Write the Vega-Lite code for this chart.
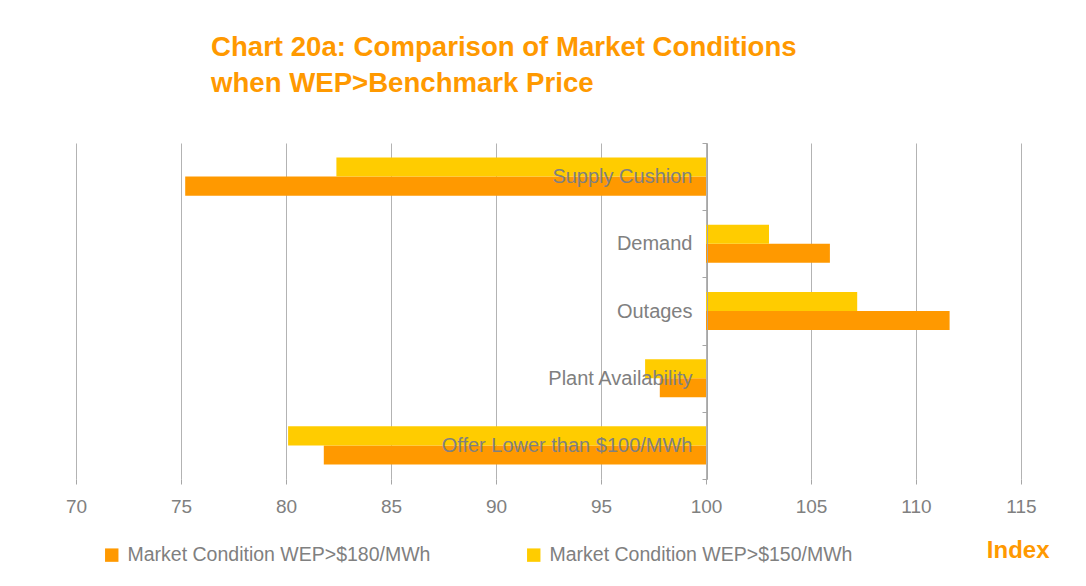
{
  "$schema": "https://vega.github.io/schema/vega-lite/v6.json",
  "width": 945,
  "height": 336,
  "autosize": "none",
  "padding": {"left": 76, "top": 143, "right": 65, "bottom": 107},
  "background": "white",
  "config": {
    "view": {"stroke": null},
    "font": "Liberation Sans"
  },
  "title": {
    "text": ["Chart 20a: Comparison of Market Conditions", "when WEP>Benchmark Price"],
    "anchor": "start",
    "frame": "group",
    "dx": 135,
    "offset": 35,
    "fontSize": 27.6,
    "lineHeight": 36,
    "font": "Liberation Sans",
    "fontWeight": "bold",
    "color": "#FF9900"
  },
  "data": {
    "values": [
      {"category": "Supply Cushion", "series": "Market Condition WEP>$180/MWh", "value": 75.2},
      {"category": "Supply Cushion", "series": "Market Condition WEP>$150/MWh", "value": 82.4},
      {"category": "Demand", "series": "Market Condition WEP>$180/MWh", "value": 105.9},
      {"category": "Demand", "series": "Market Condition WEP>$150/MWh", "value": 103.0},
      {"category": "Outages", "series": "Market Condition WEP>$180/MWh", "value": 111.6},
      {"category": "Outages", "series": "Market Condition WEP>$150/MWh", "value": 107.2},
      {"category": "Plant Availability", "series": "Market Condition WEP>$180/MWh", "value": 97.8},
      {"category": "Plant Availability", "series": "Market Condition WEP>$150/MWh", "value": 97.1},
      {"category": "Offer Lower than $100/MWh", "series": "Market Condition WEP>$180/MWh", "value": 81.8},
      {"category": "Offer Lower than $100/MWh", "series": "Market Condition WEP>$150/MWh", "value": 80.1}
    ]
  },
  "mark": {"type": "bar", "cornerRadius": 0},
  "encoding": {
    "y": {
      "field": "category",
      "type": "nominal",
      "sort": ["Supply Cushion", "Demand", "Outages", "Plant Availability", "Offer Lower than $100/MWh"],
      "scale": {"paddingInner": 0, "paddingOuter": 0},
      "axis": {
        "title": null,
        "orient": "left",
        "offset": -631,
        "zindex": 2,
        "grid": false,
        "domainColor": "#A6A6A6",
        "domainWidth": 1,
        "tickColor": "#A6A6A6",
        "tickSize": 5,
        "tickBand": "extent",
        "labelPadding": 10,
        "labelFontSize": 20,
        "labelColor": "#808080",
        "labelFont": "Liberation Sans",
        "labelLimit": 400
      }
    },
    "yOffset": {
      "field": "series",
      "type": "nominal",
      "sort": ["Market Condition WEP>$150/MWh", "Market Condition WEP>$180/MWh"],
      "scale": {"paddingInner": 0, "paddingOuter": 0.765}
    },
    "x": {
      "field": "value",
      "type": "quantitative",
      "scale": {"domain": [70, 115], "nice": false, "zero": false},
      "axis": {
        "title": "Index",
        "titleColor": "#FF9900",
        "titleFontSize": 24,
        "titleFontWeight": "bold",
        "titleFont": "Liberation Sans",
        "titleX": 973,
        "titleY": 78,
        "titleAlign": "right",
        "titleBaseline": "alphabetic",
        "titleAnchor": null,
        "values": [70, 75, 80, 85, 90, 95, 100, 105, 110, 115],
        "domain": false,
        "grid": true,
        "gridColor": "#B3B3B3",
        "gridWidth": 1,
        "tickColor": "#A6A6A6",
        "tickSize": 5,
        "labelPadding": 13,
        "labelFontSize": 19,
        "labelColor": "#808080",
        "labelFont": "Liberation Sans",
        "labelFlush": false
      }
    },
    "x2": {"datum": 100},
    "color": {
      "field": "series",
      "type": "nominal",
      "scale": {
        "domain": ["Market Condition WEP>$180/MWh", "Market Condition WEP>$150/MWh"],
        "range": ["#FF9900", "#FFCC00"]
      },
      "legend": {
        "title": null,
        "orient": "none",
        "direction": "horizontal",
        "legendX": 26,
        "legendY": 402,
        "padding": 0,
        "symbolType": "square",
        "symbolSize": 180,
        "symbolStrokeWidth": 0,
        "symbolOpacity": 1,
        "labelFontSize": 19.5,
        "labelColor": "#808080",
        "labelFont": "Liberation Sans",
        "labelOffset": 6,
        "labelLimit": 400,
        "columnPadding": 93
      }
    }
  }
}
